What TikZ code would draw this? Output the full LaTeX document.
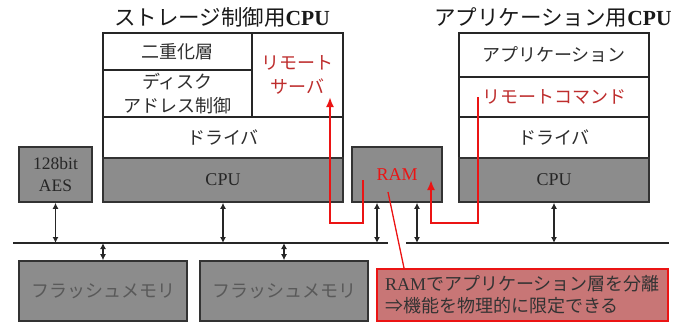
\documentclass[tikz,border=0pt]{standalone}
\usepackage{fontspec}
\setmainfont{Liberation Serif}
\newfontfamily\jp{Noto Sans CJK JP}
\usetikzlibrary{arrows.meta}
\definecolor{boxgray}{RGB}{140,140,140}
\definecolor{txtdark}{RGB}{45,45,45}
\definecolor{remred}{RGB}{190,45,45}
\definecolor{calfill}{RGB}{200,118,118}
\definecolor{brightred}{RGB}{235,20,20}
\newcommand\jtext[1]{{\jp #1}}
\begin{document}
\begin{tikzpicture}[x=1pt,y=-1pt,
  wbox/.style={draw=black!85, line width=1.4pt, fill=white, inner sep=0pt, text=txtdark,
    align=center, font=\fontsize{18}{24}\selectfont},
  gbox/.style={draw=black!80, line width=1.6pt, fill=boxgray, inner sep=0pt, text=black!85,
    align=center, font=\fontsize{18}{22}\selectfont},
  title/.style={text=black!90, font=\fontsize{21.5}{24}\selectfont, inner sep=0pt},
  dbl/.style={{Latex[length=6pt,width=6pt]}-{Latex[length=6pt,width=6pt]}, line width=1.3pt, black!85},
  redpath/.style={draw=brightred, line width=2.4pt, -{Latex[length=10pt,width=8pt]}},
  bus/.style={draw=black!85, line width=1.2pt}
]
\useasboundingbox (0,0) rectangle (684,322);

% titles
\node[title] (t1) at (222,17) {\jtext{ストレージ制御用}\textbf{CPU}};
\node[title] (t2) at (553,17) {\jtext{アプリケーション用}\textbf{CPU}};

% storage CPU stack
\node[wbox, minimum width=149pt, minimum height=37pt] (dup) at (177.5,51.5) {\jtext{二重化層}};
\node[wbox, minimum width=149pt, minimum height=47pt] (disk) at (177.5,93.5) {\jtext{ディスク}\\\jtext{アドレス制御}};
\node[wbox, minimum width=91pt, minimum height=84pt, text=remred] (rserv) at (297.5,75) {\jtext{リモート}\\\jtext{サーバ}};
\node[wbox, minimum width=240pt, minimum height=41pt] (sdrv) at (223,137.5) {\jtext{ドライバ}};
\node[gbox, minimum width=240pt, minimum height=44pt] (scpu) at (223,180) {CPU};

% application CPU stack
\node[wbox, minimum width=190pt, minimum height=44pt] (app) at (554,55) {\jtext{アプリケーション}};
\node[wbox, minimum width=190pt, minimum height=40pt, text=remred] (rcmd) at (554,97) {\jtext{リモートコマンド}};
\node[wbox, minimum width=190pt, minimum height=41pt] (adrv) at (554,137.5) {\jtext{ドライバ}};
\node[gbox, minimum width=190pt, minimum height=44pt] (acpu) at (554,180) {CPU};

% AES, RAM
\node[gbox, minimum width=73pt, minimum height=55pt, font=\fontsize{17.5}{22}\selectfont] (aes) at (55.5,174.5) {128bit\\AES};
\node[gbox, minimum width=90pt, minimum height=55pt, text=brightred] (ram) at (397,174.5) {RAM};

% flash memories
\node[gbox, minimum width=168pt, minimum height=60pt, text=black!65] (fl1) at (103,291) {\jtext{フラッシュメモリ}};
\node[gbox, minimum width=168pt, minimum height=60pt, text=black!65] (fl2) at (284,291) {\jtext{フラッシュメモリ}};

% callout
\node[draw=brightred, line width=2pt, fill=calfill, minimum width=291pt, minimum height=52pt,
  inner sep=0pt, text=black!80, align=left, font=\fontsize{18}{22}\selectfont] (call) at (522.5,295)
  {RAM\jtext{でアプリケーション層を分離}\\\jtext{⇒機能を物理的に限定できる}};

% bus
\coordinate (busL) at (13,243);
\coordinate (busM1) at (388,243);
\coordinate (busM2) at (406,243);
\coordinate (busR) at (669,243);
\draw[bus] (busL) -- (busM1);
\draw[bus] (busM2) -- (busR);

% bus connections
\draw[dbl] (aes.south) -- (aes.south |- busL);
\draw[dbl] (scpu.south) -- (scpu.south |- busL);
\draw[dbl] ([xshift=-20pt]ram.south) -- ([xshift=-20pt]ram.south |- busL);
\draw[dbl] ([xshift=20pt]ram.south) -- ([xshift=20pt]ram.south |- busL);
\draw[dbl] (acpu.south) -- (acpu.south |- busL);
\draw[dbl] (fl1.north |- busL) -- (fl1.north);
\draw[dbl] (fl2.north |- busL) -- (fl2.north);

% red data paths
\coordinate (p1a) at (363,180);
\coordinate (p1b) at (363,223);
\coordinate (p1c) at (330,223);
\coordinate (p1d) at (330,97);
\draw[redpath] (p1a) -- (p1b) -- (p1c) -- (p1d);
\coordinate (p2a) at (478,97);
\coordinate (p2b) at (478,223);
\coordinate (p2c) at (431,223);
\coordinate (p2d) at (431,180);
\draw[redpath] (p2a) -- (p2b) -- (p2c) -- (p2d);

% callout pointer
\coordinate (cp) at (388,192);
\draw[draw=brightred, line width=1.3pt] (cp) -- (call.north -| 404,0);
\end{tikzpicture}
\end{document}
